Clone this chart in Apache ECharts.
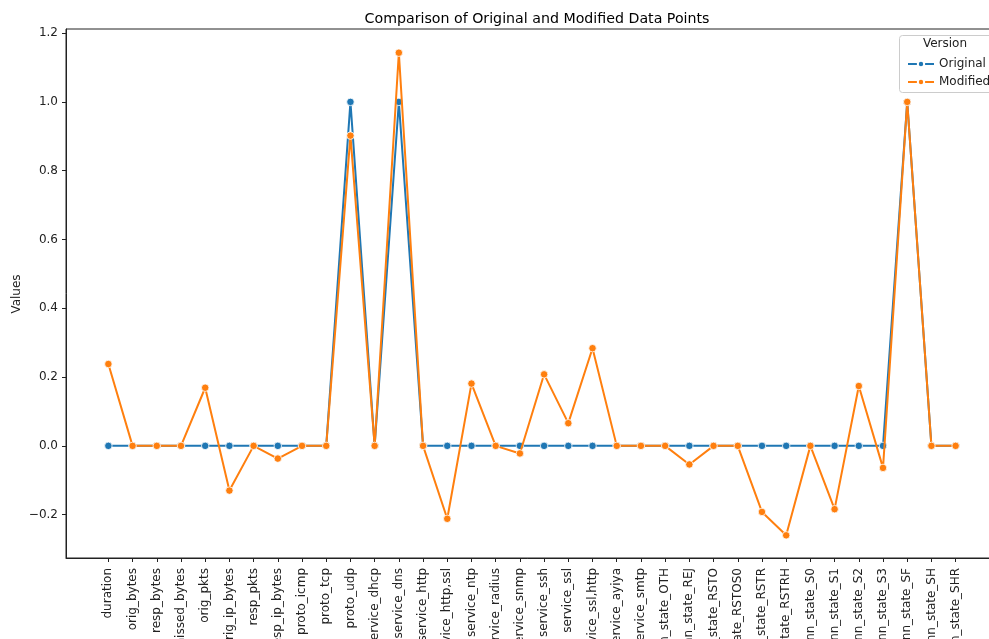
<!DOCTYPE html>
<html>
<head>
<meta charset="utf-8">
<script src="https://cdn.jsdelivr.net/npm/echarts@6/dist/echarts.min.js"></script>
<style>
html,body{margin:0;padding:0;background:#fff;}
#chart{width:989px;height:639px;}
</style>
</head>
<body>
<div id="chart"></div>
<script>
const categories = ["duration","orig_bytes","resp_bytes","missed_bytes","orig_pkts","orig_ip_bytes","resp_pkts","resp_ip_bytes","proto_icmp","proto_tcp","proto_udp","service_dhcp","service_dns","service_http","service_http,ssl","service_ntp","service_radius","service_snmp","service_ssh","service_ssl","service_ssl,http","service_ayiya","service_smtp","conn_state_OTH","conn_state_REJ","conn_state_RSTO","conn_state_RSTOS0","conn_state_RSTR","conn_state_RSTRH","conn_state_S0","conn_state_S1","conn_state_S2","conn_state_S3","conn_state_SF","conn_state_SH","conn_state_SHR"];
const originalValues = [0,0,0,0,0,0,0,0,0,0,1,0,1,0,0,0,0,0,0,0,0,0,0,0,0,0,0,0,0,0,0,0,0,1,0,0];
const modifiedValues = [0.238,0,0,0,0.169,-0.130,0,-0.037,0,0,0.902,0,1.143,0,-0.212,0.181,0,-0.022,0.208,0.066,0.284,0,0,0,-0.054,0,0,-0.192,-0.260,0,-0.184,0.174,-0.064,1.0,0,0];
const yTicks = [-0.2,0,0.2,0.4,0.6,0.8,1.0,1.2];
const seriesNames = ["Original","Modified"];

const FONT = "DejaVu Sans";
const blue = "#1f77b4", orange = "#ff7f0e";
const xIdx = categories.map((c,i)=>i);
const toPairs = vals => vals.map((v,i)=>[i,v]);
const fmtY = v => (Math.round(v*10)/10).toFixed(1).replace('-', '\u2212');

const chart = echarts.init(document.getElementById('chart'), null, {renderer:'canvas'});
const mkSeries = (name, vals, color, z) => ({
  name: name, type: 'line', data: toPairs(vals), z: z,
  symbol: 'circle', symbolSize: 7.5, showSymbol: true,
  lineStyle: {color: color, width: 2},
  itemStyle: {color: color, borderColor: '#fff', borderWidth: 0.8},
  emphasis: {disabled: true}, animation: false
});
chart.setOption({
  animation: false,
  title: {text: 'Comparison of Original and Modified Data Points', left: 532, top: 7, textAlign: 'center',
    textStyle: {fontFamily: FONT, fontSize: 14.2, fontWeight: 'normal', color: '#000'}},
  grid: {left: 66, top: 29, width: 932, bottom: 81, containLabel: false, outerBoundsMode: 'none',
    show: true, borderColor: '#222', borderWidth: 1, backgroundColor: 'transparent'},
  legend: {data: seriesNames, orient: 'vertical', left: 902, top: 53, itemWidth: 26, itemHeight: 8, itemGap: 6, z: 200,
    textStyle: {fontFamily: FONT, fontSize: 12, color: '#222'}, selectedMode: false},
  graphic: [
    {type: 'rect', shape: {x: 899.5, y: 35.5, width: 100, height: 57, r: 3}, style: {fill: 'rgba(255,255,255,0.8)', stroke: '#ccc', lineWidth: 1}, z: 50},
    {type: 'text', x: 945, y: 38, style: {text: 'Version', fontFamily: FONT, fontSize: 12, fill: '#222', align: 'center'}, z: 51},
    {type: 'text', x: 17, y: 294, rotation: Math.PI / 2, style: {text: 'Values', fontFamily: FONT, fontSize: 12, fill: '#222', align: 'center', verticalAlign: 'middle'}, z: 51}
  ],
  xAxis: {type: 'value', min: -1.75, max: 36.75,
    axisLine: {show: true, onZero: false, lineStyle: {color: '#222'}},
    axisTick: {show: true, length: 4, customValues: xIdx, lineStyle: {color: '#222'}},
    axisLabel: {customValues: xIdx, rotate: 90, margin: 10, formatter: v => categories[Math.round(v)] || '',
      fontFamily: FONT, fontSize: 12, color: '#222'},
    splitLine: {show: false}},
  yAxis: {type: 'value', min: -0.326, max: 1.212,
    axisLine: {show: true, onZero: false, lineStyle: {color: '#222'}},
    axisTick: {show: true, length: 4, customValues: yTicks, lineStyle: {color: '#222'}},
    axisLabel: {customValues: yTicks, margin: 8, formatter: fmtY, fontFamily: FONT, fontSize: 12, color: '#222'},
    splitLine: {show: false}},
  series: [mkSeries(seriesNames[0], originalValues, blue, 2), mkSeries(seriesNames[1], modifiedValues, orange, 3)]
});
</script>
</body>
</html>
